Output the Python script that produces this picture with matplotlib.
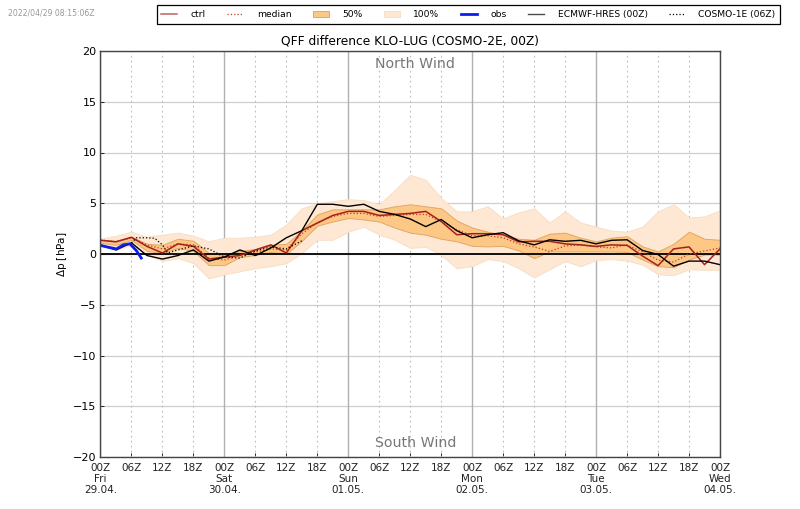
import numpy as np
import matplotlib
matplotlib.use("Agg")
import matplotlib.pyplot as plt
from matplotlib.patches import Patch
from matplotlib.lines import Line2D

hours = np.arange(0, 121, 3)
hi100 = [1.5, 1.8, 2.2, 1.7, 1.9, 2.1, 1.8, 1.25, 1.6, 1.6, 1.7, 1.9, 2.9,
         4.5, 5.0, 5.2, 5.4, 5.3, 4.9, 6.3, 7.8, 7.3, 5.5, 4.2, 4.2, 4.7, 3.5, 4.1,
         4.5, 3.1, 4.2, 3.1, 2.7, 2.3, 2.2, 2.7, 4.2, 4.9, 3.6, 3.7, 4.3]
lo100 = [0.8, 0.4, 0.9, 0.0, -0.7, -0.4, -0.9, -2.4, -2.0, -1.7, -1.4, -1.2, -0.9,
         0.1, 1.4, 1.4, 2.2, 2.7, 1.9, 1.4, 0.6, 0.7, -0.1, -1.4, -1.2, -0.5, -0.7, -1.4,
         -2.3, -1.5, -0.7, -1.2, -0.6, -0.5, -0.65, -1.05, -2.0, -2.1, -1.5, -1.55, -1.55]
hi50 = [1.4, 1.3, 1.7, 1.0, 0.9, 1.5, 1.3, 0.1, -0.1, 0.3, 0.5, 0.9, 1.0,
        2.3, 3.9, 4.4, 4.4, 4.4, 4.4, 4.7, 4.9, 4.7, 4.5, 3.3, 2.6, 2.2, 1.9, 1.5,
        1.4, 2.0, 2.1, 1.6, 1.25, 1.6, 1.75, 0.75, 0.25, 1.0, 2.2, 1.5, 1.4]
lo50 = [1.1, 0.9, 1.4, 0.3, 0.1, 0.6, 0.3, -1.1, -1.1, -0.3, -0.1, 0.2, 0.0,
        1.3, 2.8, 3.2, 3.55, 3.4, 3.2, 2.6, 2.1, 1.9, 1.5, 1.25, 0.8, 0.75, 0.8, 0.35,
        -0.4, 0.25, 0.25, 0.25, 0.25, 0.25, 0.2, -0.55, -1.2, -1.3, -0.55, -0.05, -0.05]
ctrl = [1.35, 1.2, 1.65, 0.75, 0.1, 1.0, 0.75, -0.5, -0.3, -0.15, 0.4, 0.9, 0.1,
        2.3, 3.05, 3.8, 4.2, 4.2, 3.8, 3.9, 4.0, 4.2, 3.2, 1.9, 2.0, 2.0, 1.9, 1.2,
        1.25, 1.25, 1.0, 0.9, 0.75, 0.9, 0.85, -0.2, -1.15, 0.5, 0.7, -1.05, 0.5]
median = [1.4, 1.2, 1.6, 0.9, 0.5, 1.0, 0.9, -0.4, -0.6, -0.1, 0.2, 0.5, 0.4,
          2.0, 3.1, 3.7, 4.0, 4.0, 3.7, 3.8, 3.9, 3.9, 3.2, 2.4, 1.8, 1.8, 1.6, 1.0,
          0.7, 0.25, 0.8, 0.9, 0.7, 0.6, 0.9, 0.2, -0.6, -0.8, 0.0, 0.3, 0.6]
ecmwf = [0.9, 0.4, 1.1, -0.15, -0.5, -0.15, 0.4, -0.7, -0.3, 0.4, -0.15, 0.6, 1.6,
         2.3, 4.9, 4.9, 4.7, 4.9, 4.2, 3.9, 3.45, 2.7, 3.4, 2.3, 1.6, 1.9, 2.1, 1.3,
         0.9, 1.4, 1.25, 1.35, 1.0, 1.35, 1.4, 0.35, -0.05, -1.2, -0.7, -0.7, -1.05]
cosmo1_hours = [6, 7, 9, 10.5, 12, 13, 15, 18, 21, 24, 27, 30, 33, 36, 39]
cosmo1 = [1.1, 1.6, 1.6, 1.55, 0.9, 0.1, 0.4, 0.8, 0.5, -0.3, -0.4, 0.3, 0.7, 0.5, 1.3]
obs_hours = [0, 1.2, 3.1, 4.4, 5.7, 7, 7.9]
obs = [0.85, 0.7, 0.5, 0.9, 1.0, 0.3, -0.4]

all_ticks = np.arange(0, 121, 6)
days = ["Fri", "Sat", "Sun", "Mon", "Tue", "Wed"]
dates = ["29.04.", "30.04.", "01.05.", "02.05.", "03.05.", "04.05."]

C50 = "#fdc785"
C100 = "#fee8d3"
CCTRL = "#a5201c"

fig = plt.figure(figsize=(8.0, 5.09), dpi=100)
ax = fig.add_axes([100.5 / 800, 1 - 457 / 509, 619.5 / 800, 406 / 509])

ax.fill_between(hours, lo100, hi100, facecolor=C100, edgecolor="#f8dfc6", lw=0.7, zorder=2)
ax.fill_between(hours, lo50, hi50, facecolor=C50, edgecolor="#e0a868", lw=0.7, zorder=3)
ax.axhline(0, color="k", lw=1.3, zorder=4)
ax.plot(hours, median, color="#c43a2a", lw=0.9, ls=":", zorder=5)
ax.plot(hours, ctrl, color=CCTRL, lw=1.1, zorder=6)
ax.plot(cosmo1_hours, cosmo1, color="k", lw=0.9, ls=":", zorder=6)
ax.plot(hours, ecmwf, color="k", lw=1.0, zorder=7)
ax.plot(obs_hours, obs, color="#0a1ef0", lw=2.0, zorder=8)

ax.set_xlim(0, 120)
ax.set_ylim(-20, 20)
ax.set_yticks(np.arange(-20, 21, 5))
ax.set_xticks(all_ticks)
labels = []
for h in all_ticks:
    txt = "%02dZ" % (h % 24)
    if h % 24 == 0:
        i = h // 24
        txt += "\n" + days[i] + "\n" + dates[i]
    labels.append(txt)
ax.set_xticklabels(labels, fontsize=7.5, color="#222222", linespacing=1.15)
ax.tick_params(axis="y", labelsize=8, direction="in", length=3, width=0.6, pad=3)
ax.tick_params(axis="x", direction="in", length=3, width=0.6, pad=4)
ax.set_ylabel(r"$\Delta$p [hPa]", fontsize=7.5, labelpad=3)
ax.set_title("QFF difference KLO-LUG (COSMO-2E, 00Z)", fontsize=8.8, pad=5)

ax.grid(axis="y", color="#cfcfcf", lw=0.9, zorder=1)
for h in all_ticks:
    if h % 24 == 0:
        ax.axvline(h, color="#b0b0b0", lw=1.0, zorder=1)
    else:
        ax.axvline(h, color="#bbbbbb", lw=0.8, ls=(0, (1.5, 3)), zorder=1)
ax.set_axisbelow(True)
for sp in ax.spines.values():
    sp.set_color("#444444")
    sp.set_linewidth(1.0)
    sp.set_zorder(10)

ax.text(0.508, 0.968, "North Wind", transform=ax.transAxes, ha="center", va="center",
        fontsize=10.2, color="#777777")
ax.text(0.508, 0.034, "South Wind", transform=ax.transAxes, ha="center", va="center",
        fontsize=10.2, color="#777777")
fig.text(8 / 800, 1 - 12.5 / 509, "2022/04/29 08:15:06Z", fontsize=5.6, color="#999999",
         va="center", ha="left")

handles = [
    Line2D([], [], color=CCTRL, lw=1.1, alpha=0.7),
    Line2D([], [], color="#c43a2a", lw=0.9, ls=":"),
    Patch(facecolor=C50, edgecolor="#e0a868", lw=0.7),
    Patch(facecolor=C100, edgecolor="#f8dfc6", lw=0.7),
    Line2D([], [], color="#0a1ef0", lw=2.0),
    Line2D([], [], color="k", lw=1.0, alpha=0.7),
    Line2D([], [], color="k", lw=0.9, ls=":"),
]
names = ["ctrl", "median", "50%", "100%", "obs", "ECMWF-HRES (00Z)", "COSMO-1E (06Z)"]
leg = fig.legend(handles, names, ncol=7, fontsize=6.6, loc="center",
                 bbox_to_anchor=(468.5 / 800, 1 - 14.5 / 509), fancybox=False,
                 edgecolor="k", framealpha=1, borderpad=0.5, columnspacing=2.35,
                 handlelength=1.7, handletextpad=1.5, borderaxespad=0)
leg.get_frame().set_linewidth(0.9)

fig.savefig("out.png", dpi=100)
plt.close(fig)
